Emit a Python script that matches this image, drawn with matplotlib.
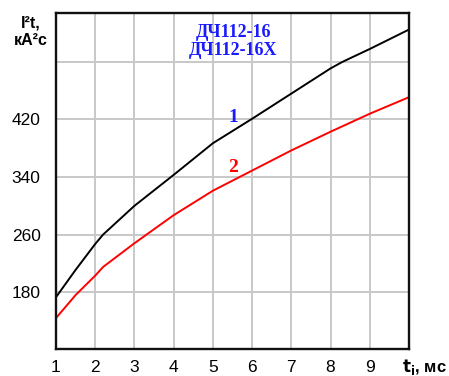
import matplotlib
matplotlib.use("Agg")
import matplotlib.pyplot as plt

t1 = [1, 1.5, 2, 2.2, 3, 4, 5, 6, 7, 8, 8.3, 9, 10]
curve1 = [173, 211, 247, 260, 300, 343, 387, 421, 456, 491, 500, 518, 545]
t2 = [1, 1.5, 2, 2.2, 3, 4, 5, 6, 7, 8, 9, 10]
curve2 = [144, 176, 203, 215, 248, 287, 321, 349, 377, 403, 428, 451]
xticks = [1, 2, 3, 4, 5, 6, 7, 8, 9, 10]
xticklabels = ["1", "2", "3", "4", "5", "6", "7", "8", "9", ""]
yticks = [180, 260, 340, 420, 500]
yticklabels = ["180", "260", "340", "420", ""]

plt.rcParams['font.family'] = ['Liberation Sans', 'DejaVu Sans']
fig = plt.figure(figsize=(4.49, 3.76), dpi=100)
ax = fig.add_axes([56/449, 1-349/376, (409-56)/449, (349-13)/376])
ax.set_xlim(1, 10)
ax.set_ylim(101, 568)
ax.set_xticks(xticks)
ax.set_xticklabels(xticklabels, fontsize=12.5)
ax.set_yticks(yticks)
ax.set_yticklabels(yticklabels, fontsize=12.5)
ax.tick_params(axis='x', length=0, pad=8)
ax.tick_params(axis='y', length=0, pad=11)
ax.grid(True, color='#c8c8c8', linewidth=1.4)
ax.set_axisbelow(True)
for s in ax.spines.values():
    s.set_linewidth(1.7)
    s.set_color('#111111')

ax.plot(t1, curve1, color='black', linewidth=1.4)
ax.plot(t2, curve2, color='red', linewidth=1.4)

serif = ['Liberation Serif', 'DejaVu Serif']
ax.text(5.52, 553, "ДЧ112-16\nДЧ112-16Х", color='#1a1aff', fontsize=13,
        fontweight='bold', family=serif, ha='center', va='top', linespacing=1.12)
ax.text(5.52, 417, "1", color='#1a1aff', fontsize=14, fontweight='bold', family=serif,
        ha='center', va='baseline')
ax.text(5.52, 347, "2", color='red', fontsize=14, fontweight='bold', family=serif,
        ha='center', va='baseline')

fig.text(31/449, 1-32/376, "I²t,\nкА²с", fontsize=11.5, fontweight='bold',
         ha='center', va='center', linespacing=1.2)
fig.text(447/449, 1-372/376, r"$\mathbf{t}_{\mathbf{i}}$, мс", fontsize=12, fontweight='bold',
         ha='right', va='baseline')

fig.savefig("out.png", dpi=100)
